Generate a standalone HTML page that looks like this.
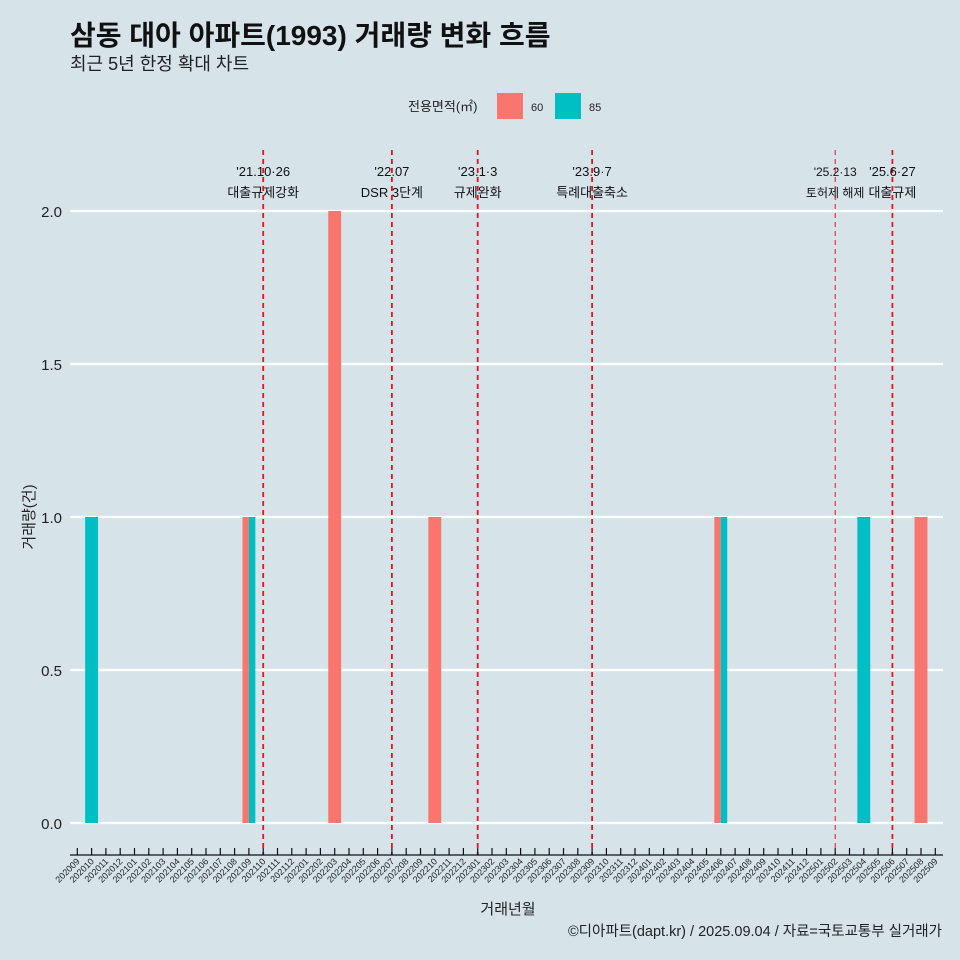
<!DOCTYPE html>
<html><head><meta charset="utf-8">
<style>
body{margin:0;background:#d6e4ea;}
svg{display:block;font-family:"Liberation Sans","Noto Sans CJK KR",sans-serif;}
</style></head>
<body>
<svg id="chart" width="960" height="960" viewBox="0 0 960 960">
<rect x="0" y="0" width="960" height="960" fill="#d6e4ea"/>
<text x="70" y="45" font-size="28" font-weight="bold" fill="#111">삼동 대아 아파트(1993) 거래량 변화 흐름</text>
<text x="70" y="70" font-size="18" fill="#222">최근 5년 한정 확대 차트</text>
<g>
<text x="408" y="111" font-size="13" fill="#222">전용면적(㎡)</text>
<rect x="497" y="93" width="26" height="26" fill="#f8766d"/>
<text x="531" y="111" font-size="11" fill="#222">60</text>
<rect x="555" y="93" width="26" height="26" fill="#00bfc4"/>
<text x="589" y="111" font-size="11" fill="#222">85</text>
</g>
<g id="grid"></g><g id="bars"></g><g id="events"></g><g id="xaxis"></g><g id="yaxis"></g>
<text x="508" y="914" font-size="15" text-anchor="middle" fill="#222">거래년월</text>
<text transform="translate(34,517) rotate(-90)" font-size="15" text-anchor="middle" fill="#222">거래량(건)</text>
<text x="942" y="936" font-size="14.5" text-anchor="end" fill="#222">©디아파트(dapt.kr) / 2025.09.04 / 자료=국토교통부 실거래가</text>
</svg>
<script>
const months = [];
for (let y = 2020; y <= 2025; y++) for (let m = 1; m <= 12; m++) {
  const k = y * 100 + m;
  if (k >= 202009 && k <= 202509) months.push(String(k));
}
const barMonths = ["202010","202109","202109","202203","202210","202406","202406","202504","202508"];
const barSizes  = ["85","60","85","60","60","60","85","85","60"];
const barValues = [1,1,1,2,1,1,1,1,1];
const yTicks = [0,0.5,1,1.5,2];
const yTickLabels = ["0.0","0.5","1.0","1.5","2.0"];
const eventMonths = ["202110","202207","202301","202309","202502","202506"];
const eventDates = ["'21.10·26","'22.07","'23.1·3","'23.9·7","'25.2·13","'25.6·27"];
const eventNames = ["대출규제강화","DSR 3단계","규제완화","특례대출축소","토허제 해제","대출규제"];

const NS = "http://www.w3.org/2000/svg";
const x0 = 77.3, step = 14.3, y0 = 823, yScale = 306, bw = 12.9;
const xPos = m => x0 + months.indexOf(m) * step;
const yPos = v => y0 - v * yScale;
function mk(tag, attrs, parent) {
  const e = document.createElementNS(NS, tag);
  for (const k in attrs) e.setAttribute(k, attrs[k]);
  document.getElementById(parent).appendChild(e);
  return e;
}
yTicks.forEach((v, i) => {
  const l = mk("line", {x1: 70, x2: 943, y1: yPos(v), y2: yPos(v), stroke: "#fff", "stroke-width": 2.2}, "grid");
  
  
  const t = mk("text", {x: 62, y: yPos(v) + 6, "font-size": 15, "text-anchor": "end", fill: "#222"}, "yaxis");
  t.textContent = yTickLabels[i];
  
  
});
barMonths.forEach((m, i) => {
  const both = barMonths.filter(b => b === m).length > 1;
  let x = xPos(m) - bw / 2, w = bw;
  if (both) { w = bw / 2; if (barSizes[i] === "85") x += w; }
  const r = mk("rect", {x: x, y: yPos(barValues[i]), width: w, height: barValues[i] * yScale, fill: barSizes[i] === "60" ? "#f8766d" : "#00bfc4"}, "bars");
  
  
});
eventMonths.forEach((m, i) => {
  const x = xPos(m);
  const thin = m === "202502";
  const l = mk("line", {x1: x, x2: x, y1: 150, y2: 855, stroke: "#e8141c", "stroke-width": thin ? 1 : 1.8, "stroke-dasharray": "5,4"}, "events");
  
  
  const fs = thin ? 12 : 13;
  const t1 = mk("text", {x: x, y: 176, "font-size": fs, "text-anchor": "middle", fill: "#111"}, "events");
  t1.textContent = eventDates[i];
  
  
  const t2 = mk("text", {x: x, y: 197, "font-size": fs, "text-anchor": "middle", fill: "#111"}, "events");
  t2.textContent = eventNames[i];
  
  
});
const ax = mk("line", {x1: 70, x2: 943, y1: 855, y2: 855, stroke: "#111", "stroke-width": 1.3}, "xaxis");


months.forEach(m => {
  const x = xPos(m);
  const tk = mk("line", {x1: x, x2: x, y1: 848, y2: 855, stroke: "#111", "stroke-width": 1.2}, "xaxis");
  
  
  const t = mk("text", {x: x + 3, y: 862, "font-size": 9, "text-anchor": "end", fill: "#222", transform: "rotate(-45," + (x + 3) + ",862)"}, "xaxis");
  t.textContent = m;
  
  
});
</script>
</body></html>
